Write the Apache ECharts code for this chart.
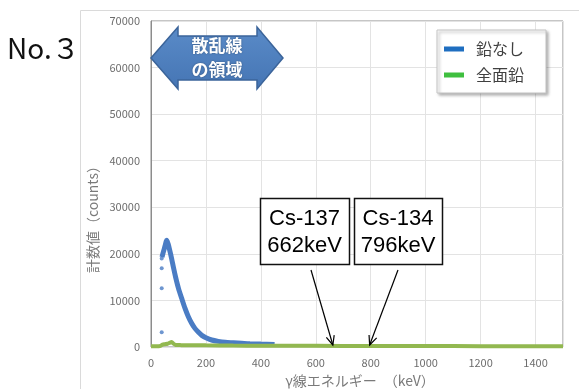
<!DOCTYPE html>
<html>
<head>
<meta charset="utf-8">
<script src="https://cdn.jsdelivr.net/npm/echarts@6/dist/echarts.min.js"></script>
<style>
  html, body { margin: 0; padding: 0; background: #fff; }
  #main { width: 579px; height: 389px; }
</style>
</head>
<body>
<div id="main"></div>
<script>
// γ-ray spectrum: no lead shield vs. full lead shield
const seriesNames = ['鉛なし', '全面鉛'];

// 鉛なし: main band (keV, counts)
const noLeadEnergy = [40, 44, 48, 52, 55, 57, 62, 68, 75, 82, 90, 100, 112, 124, 136, 148, 160, 172, 185, 200, 221, 245, 270, 300, 330, 360, 400, 450];
const noLeadCounts = [19300, 20200, 21000, 21900, 22600, 22900, 22200, 20800, 19000, 17000, 14900, 12600, 10400, 8300, 6500, 5100, 4000, 3200, 2500, 2000, 1500, 1200, 1000, 900, 800, 700, 620, 560];

// 鉛なし: sparse low-energy points
const noLeadSparseEnergy = [39, 39, 39, 39];
const noLeadSparseCounts = [3150, 12600, 16900, 19000];

// 全面鉛
const fullLeadEnergy = [0, 20, 35, 42, 50, 60, 68, 75, 82, 90, 110, 150, 200, 300, 400, 600, 800, 1000, 1200, 1500];
const fullLeadCounts = [150, 150, 250, 500, 600, 700, 900, 1100, 700, 450, 400, 380, 350, 300, 280, 250, 220, 200, 180, 150];

// Peak markers
const peakLabels = [['Cs-137', '662keV'], ['Cs-134', '796keV']];
const peakEnergy = [662, 796];

const xTicks = { min: 0, max: 1500, interval: 200 };
const yTicks = { min: 0, max: 70000, interval: 10000 };

const CJK = '"Noto Sans CJK JP", "Noto Sans", sans-serif';
const BLUE = '#4a7cc4';
const GREEN = '#92b850';

const zip = (xs, ys) => xs.map((x, i) => [x, ys[i]]);

const chart = echarts.init(document.getElementById('main'), null, { renderer: 'canvas' });

chart.setOption({
  animation: false,
  backgroundColor: '#fff',
  grid: {
    left: 151, top: 21, right: 16, bottom: 42,
    show: true, borderColor: '#8c8c8c', borderWidth: 1, backgroundColor: 'transparent'
  },
  xAxis: {
    type: 'value', min: xTicks.min, max: xTicks.max, interval: xTicks.interval,
    axisLine: { show: false },
    axisTick: { show: false },
    axisLabel: {
      color: '#6d6d6d', fontSize: 11, fontFamily: CJK, margin: 10,
      formatter: v => (v % xTicks.interval === 0 ? String(v) : '')
    },
    splitLine: { show: true, lineStyle: { color: '#e3e3e3', width: 1 } }
  },
  yAxis: {
    type: 'value', min: yTicks.min, max: yTicks.max, interval: yTicks.interval,
    axisLine: { show: true, lineStyle: { color: '#8c8c8c' } },
    axisTick: { show: false },
    axisLabel: {
      color: '#6d6d6d', fontSize: 11, fontFamily: CJK, margin: 11,
      formatter: v => String(v)
    },
    splitLine: { show: true, lineStyle: { color: '#e3e3e3', width: 1 } }
  },
  legend: {
    orient: 'vertical', left: 437, top: 30,
    padding: [11, 22, 10, 7],
    itemWidth: 20, itemHeight: 5, itemGap: 10,
    icon: 'rect',
    backgroundColor: '#fff', borderColor: '#c4c4c4', borderWidth: 1,
    shadowBlur: 3, shadowColor: 'rgba(0,0,0,0.35)', shadowOffsetX: 2, shadowOffsetY: 2,
    textStyle: { fontSize: 16, color: '#404040', fontFamily: CJK, padding: [0, 0, 0, 7] },
    data: [
      { name: seriesNames[0], itemStyle: { color: '#1f6ec0' } },
      { name: seriesNames[1], itemStyle: { color: '#3fbf3f' } }
    ]
  },
  series: [
    {
      name: seriesNames[0], type: 'line', smooth: 0.3, showSymbol: false,
      data: zip(noLeadEnergy, noLeadCounts),
      itemStyle: { color: BLUE },
      lineStyle: { color: BLUE, width: 5 }, z: 2
    },
    {
      name: seriesNames[0], type: 'scatter', symbolSize: 4,
      data: zip(noLeadSparseEnergy, noLeadSparseCounts),
      itemStyle: { color: BLUE }, z: 2
    },
    {
      name: seriesNames[1], type: 'line', smooth: 0.3, showSymbol: false,
      data: zip(fullLeadEnergy, fullLeadCounts),
      itemStyle: { color: GREEN },
      lineStyle: { color: GREEN, width: 4 }, z: 3
    }
  ]
});

// Overlay: frame, title, scatter-region arrow, peak call-outs, axis names
const graphics = [];

graphics.push({
  type: 'rect', z: -10, silent: true,
  shape: { x: 80.5, y: 10.5, width: 620, height: 420 },
  style: { fill: 'none', stroke: '#dadada', lineWidth: 1 }
});

graphics.push({
  type: 'text', z: 100, left: 7, top: 34,
  style: { text: 'No.３', font: '28px ' + CJK, fill: '#111' }
});

// double-headed arrow marking the scattered-ray region
graphics.push({
  type: 'polygon', z: 100,
  shape: {
    points: [[151, 58], [178, 27], [178, 36], [257, 36], [257, 27], [283, 58],
             [257, 89], [257, 80], [178, 80], [178, 89]]
  },
  style: {
    fill: new echarts.graphic.LinearGradient(0, 0, 0, 1, [
      { offset: 0, color: '#5a8bc8' }, { offset: 1, color: '#4575b4' }
    ]),
    stroke: '#3b649a', lineWidth: 1.5
  }
});
graphics.push({
  type: 'text', z: 101,
  style: {
    x: 217, y: 58, text: '散乱線\nの領域', align: 'center', verticalAlign: 'middle',
    font: 'bold 17px ' + CJK, lineHeight: 24, fill: '#fff',
    textShadowColor: 'rgba(0,0,0,0.35)', textShadowBlur: 2
  }
});

// peak call-out boxes
const boxes = [{ x: 260, y: 198, w: 89, h: 66 }, { x: 354, y: 198, w: 88, h: 66 }];
const arrowStarts = [[311, 270], [398, 270]];
boxes.forEach((b, i) => {
  graphics.push({
    type: 'rect', z: 100,
    shape: { x: b.x + 0.5, y: b.y + 0.5, width: b.w, height: b.h },
    style: { fill: '#fff', stroke: '#111', lineWidth: 1.5 }
  });
  graphics.push({
    type: 'text', z: 101,
    style: {
      x: b.x + b.w / 2, y: b.y + b.h / 2 + 1, text: peakLabels[i].join('\n'),
      align: 'center', verticalAlign: 'middle',
      font: '22px "Liberation Sans", Arial, sans-serif', lineHeight: 27, fill: '#000'
    }
  });
  const tip = chart.convertToPixel({ gridIndex: 0 }, [peakEnergy[i], 0]);
  const tx = tip[0], ty = tip[1] - 2;
  const sx = arrowStarts[i][0], sy = arrowStarts[i][1];
  const ang = Math.atan2(ty - sy, tx - sx);
  const hl = 10, spread = 0.42;
  graphics.push({
    type: 'line', z: 101,
    shape: { x1: sx, y1: sy, x2: tx, y2: ty },
    style: { stroke: '#000', lineWidth: 1.2 }
  });
  graphics.push({
    type: 'polyline', z: 101,
    shape: {
      points: [
        [tx - hl * Math.cos(ang - spread), ty - hl * Math.sin(ang - spread)],
        [tx, ty],
        [tx - hl * Math.cos(ang + spread), ty - hl * Math.sin(ang + spread)]
      ]
    },
    style: { stroke: '#000', lineWidth: 1.2, fill: 'none' }
  });
});

// axis names
graphics.push({
  type: 'text', z: 100,
  style: {
    x: 360, y: 381, text: 'γ線エネルギー　（keV）', align: 'center', verticalAlign: 'middle',
    font: '14px ' + CJK, fill: '#7a7a7a'
  }
});
graphics.push({
  type: 'text', z: 100, rotation: Math.PI / 2, x: 93, y: 216,
  style: {
    x: 0, y: 0, text: '計数値（counts）', align: 'center', verticalAlign: 'middle',
    font: '14px ' + CJK, fill: '#7a7a7a'
  }
});

chart.setOption({ graphic: graphics });
</script>
</body>
</html>
